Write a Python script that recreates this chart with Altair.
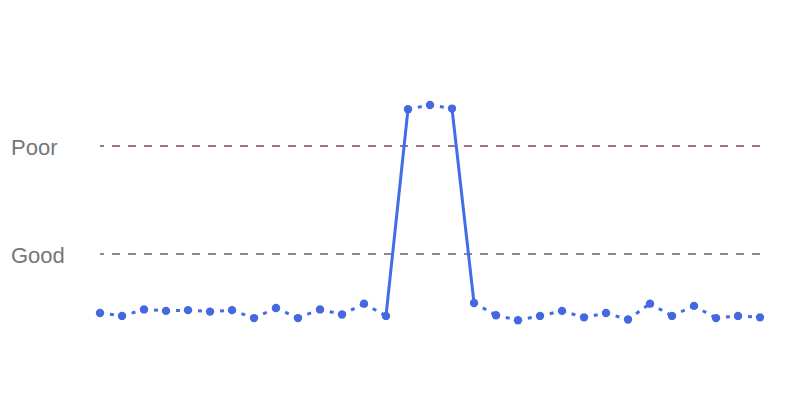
import altair as alt
import pandas as pd

# data
values = [1.68, 1.64, 1.73, 1.71, 1.72, 1.70, 1.72, 1.61, 1.75, 1.61, 1.73, 1.66, 1.81, 1.64,
          4.51, 4.57, 4.52,
          1.82, 1.65, 1.58, 1.64, 1.71, 1.62, 1.68, 1.59, 1.81, 1.64, 1.78, 1.61, 1.64, 1.62]
threshold_names = ["Good", "Poor"]
threshold_values = [2.5, 4.0]
threshold_colors = ["#8a8a8a", "#9b7383"]

idx = list(range(len(values)))
points = pd.DataFrame({"i": idx, "v": values})

poor = threshold_values[1]
seg_rows = []
for k in range(len(values) - 1):
    style = "solid" if (values[k] > poor) != (values[k + 1] > poor) else "dotted"
    seg_rows.append({"seg": k, "i": k, "v": values[k], "style": style})
    seg_rows.append({"seg": k, "i": k + 1, "v": values[k + 1], "style": style})
segs = pd.DataFrame(seg_rows)

thr = pd.DataFrame({"name": threshold_names, "v": threshold_values})

xs = alt.Scale(domain=[0, len(values) - 1], nice=False, zero=False)
ys = alt.Scale(domain=[1, 5], nice=False, zero=False)

rules = alt.Chart(thr).mark_rule(strokeWidth=2, strokeDash=[8, 8]).encode(
    y=alt.Y("v:Q", scale=ys, axis=None),
    color=alt.Color("name:N", scale=alt.Scale(domain=threshold_names, range=threshold_colors), legend=None),
)

labels = alt.Chart(thr).mark_text(
    align="left", baseline="middle", fontSize=22, font="Liberation Sans", color="#777777", dy=2
).encode(
    x=alt.value(-89),
    y=alt.Y("v:Q", scale=ys, axis=None),
    text="name:N",
)

lines = alt.Chart(segs).mark_line(strokeWidth=3, color="#3f6ee8").encode(
    x=alt.X("i:Q", scale=xs, axis=None),
    y=alt.Y("v:Q", scale=ys, axis=None),
    detail="seg:N",
    strokeDash=alt.StrokeDash(
        "style:N",
        scale=alt.Scale(domain=["dotted", "solid"], range=[[4, 6], [1, 0]]),
        legend=None,
    ),
)

dots = alt.Chart(points).mark_circle(size=70, opacity=1, color="#4568e0").encode(
    x=alt.X("i:Q", scale=xs, axis=None),
    y=alt.Y("v:Q", scale=ys, axis=None),
)

chart = alt.layer(rules, labels, lines, dots).resolve_scale(color="independent").properties(
    width=660,
    height=288,
    padding={"left": 92, "top": 66, "right": 30, "bottom": 30},
    autosize=alt.AutoSizeParams(type="none"),
    background="white",
).configure_view(stroke=None)

chart.save("out.html", embed_options={"renderer": "svg", "actions": False})
